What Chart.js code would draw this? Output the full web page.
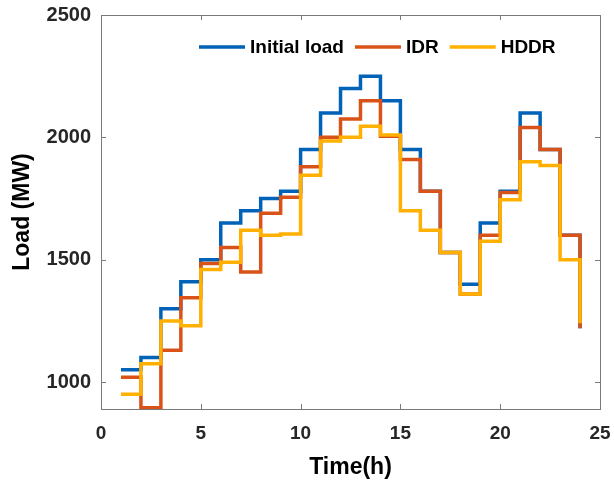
<!DOCTYPE html>
<html>
<head>
<meta charset="utf-8">
<script src="https://cdn.jsdelivr.net/npm/chart.js@4/dist/chart.umd.min.js"></script>
<style>
  html, body { margin: 0; padding: 0; background: #fff; }
  #wrap { width: 614px; height: 481px; }
</style>
</head>
<body>
<div id="wrap"><canvas id="myChart" width="614" height="481"></canvas></div>
<script>
// hours 1..24 (stairs)
const hours = [1, 2, 3, 4, 5, 6, 7, 8, 9, 10, 11, 12, 13, 14, 15, 16, 17, 18, 19, 20, 21, 22, 23, 24];
const initialLoad = [1050, 1100, 1300, 1410, 1500, 1650, 1700, 1750, 1780, 1950, 2100, 2200,
                     2250, 2150, 1950, 1780, 1530, 1400, 1650, 1780, 2100, 1950, 1600, 1220];
const idrLoad = [1020, 895, 1130, 1345, 1485, 1550, 1450, 1690, 1755, 1880, 2000, 2075,
                 2150, 2005, 1910, 1780, 1530, 1360, 1600, 1775, 2040, 1950, 1600, 1220];
const hddrLoad = [950, 1075, 1250, 1230, 1460, 1490, 1620, 1600, 1605, 1845, 1985, 2000,
                  2045, 2010, 1700, 1620, 1530, 1360, 1575, 1745, 1900, 1885, 1500, 1240];
const seriesNames = ['Initial load', 'IDR', 'HDDR'];
const xTicks = [0, 5, 10, 15, 20, 25];
const yTicks = [1000, 1500, 2000, 2500];

const colors = ['#0063B8', '#D95319', '#FFB000'];
const FONT = "'Liberation Sans', Arial, sans-serif";

function pts(values) {
  return values.map((v, i) => ({ x: hours[i], y: v }));
}

// box + inward ticks like matlab
const framePlugin = {
  id: 'frame',
  afterDraw(chart) {
    const c = chart.ctx;
    const a = chart.chartArea;
    const xs = chart.scales.x, ys = chart.scales.y;
    c.save();
    c.strokeStyle = '#7a7a7a';
    c.lineWidth = 1;
    c.strokeRect(a.left + 0.5, a.top + 0.5, a.right - a.left, a.bottom - a.top);
    c.beginPath();
    xTicks.forEach(t => {
      const px = Math.round(xs.getPixelForValue(t)) + 0.5;
      c.moveTo(px, a.bottom); c.lineTo(px, a.bottom - 5);
      c.moveTo(px, a.top); c.lineTo(px, a.top + 5);
    });
    yTicks.forEach(t => {
      const py = Math.round(ys.getPixelForValue(t)) + 0.5;
      c.moveTo(a.left, py); c.lineTo(a.left + 5, py);
      c.moveTo(a.right, py); c.lineTo(a.right - 5, py);
    });
    c.stroke();
    c.restore();
  }
};

// legend drawn inside the axes
const legendPlugin = {
  id: 'inLegend',
  afterDraw(chart) {
    const c = chart.ctx;
    const a = chart.chartArea;
    let x = a.left + 98;
    const y = a.top + 32;
    c.save();
    c.font = 'bold 19px ' + FONT;
    c.textBaseline = 'middle';
    c.fillStyle = '#000';
    chart.data.datasets.forEach(ds => {
      c.strokeStyle = ds.borderColor;
      c.lineWidth = 3.5;
      c.beginPath();
      c.moveTo(x, y); c.lineTo(x + 46, y);
      c.stroke();
      x += 51;
      c.fillText(ds.label, x, y + 1);
      x += c.measureText(ds.label).width + 11;
    });
    c.restore();
  }
};

const ctx = document.getElementById('myChart');
new Chart(ctx, {
  type: 'line',
  data: {
    datasets: [
      { label: seriesNames[0], data: pts(initialLoad), borderColor: colors[0], order: 3 },
      { label: seriesNames[1], data: pts(idrLoad), borderColor: colors[1], order: 2 },
      { label: seriesNames[2], data: pts(hddrLoad), borderColor: colors[2], order: 1 }
    ]
  },
  options: {
    responsive: false,
    animation: false,
    parsing: false,
    elements: {
      line: { stepped: true, borderWidth: 3.5, fill: false, tension: 0 },
      point: { radius: 0 }
    },
    layout: { padding: { top: 15, right: 14, left: 0, bottom: 0 } },
    plugins: {
      legend: { display: false },
      tooltip: { enabled: false }
    },
    scales: {
      x: {
        type: 'linear',
        min: 0,
        max: 25,
        afterBuildTicks: s => { s.ticks = xTicks.map(v => ({ value: v })); },
        afterFit: s => { s.height = 72; s.paddingLeft = 0; s.paddingRight = 0; },
        grid: { display: false },
        border: { display: false },
        ticks: { color: '#262626', padding: 5, maxRotation: 0, font: { family: FONT, size: 19, weight: 'bold' } },
        title: { display: true, text: 'Time(h)', color: '#000', padding: { top: 0, bottom: 0 },
                 font: { family: FONT, size: 23, weight: 'bold' } }
      },
      y: {
        type: 'linear',
        min: 890,
        max: 2500,
        afterBuildTicks: s => { s.ticks = yTicks.map(v => ({ value: v })); },
        afterFit: s => { s.width = 101; s.paddingTop = 0; s.paddingBottom = 0; },
        grid: { display: false },
        border: { display: false },
        ticks: { color: '#262626', padding: 2, callback: v => String(v),
                 font: { family: FONT, size: 20, weight: 'bold' } },
        title: { display: true, text: 'Load (MW)', color: '#000', padding: { top: 9, bottom: 0 },
                 font: { family: FONT, size: 23, weight: 'bold' } }
      }
    }
  },
  plugins: [framePlugin, legendPlugin]
});
</script>
</body>
</html>
